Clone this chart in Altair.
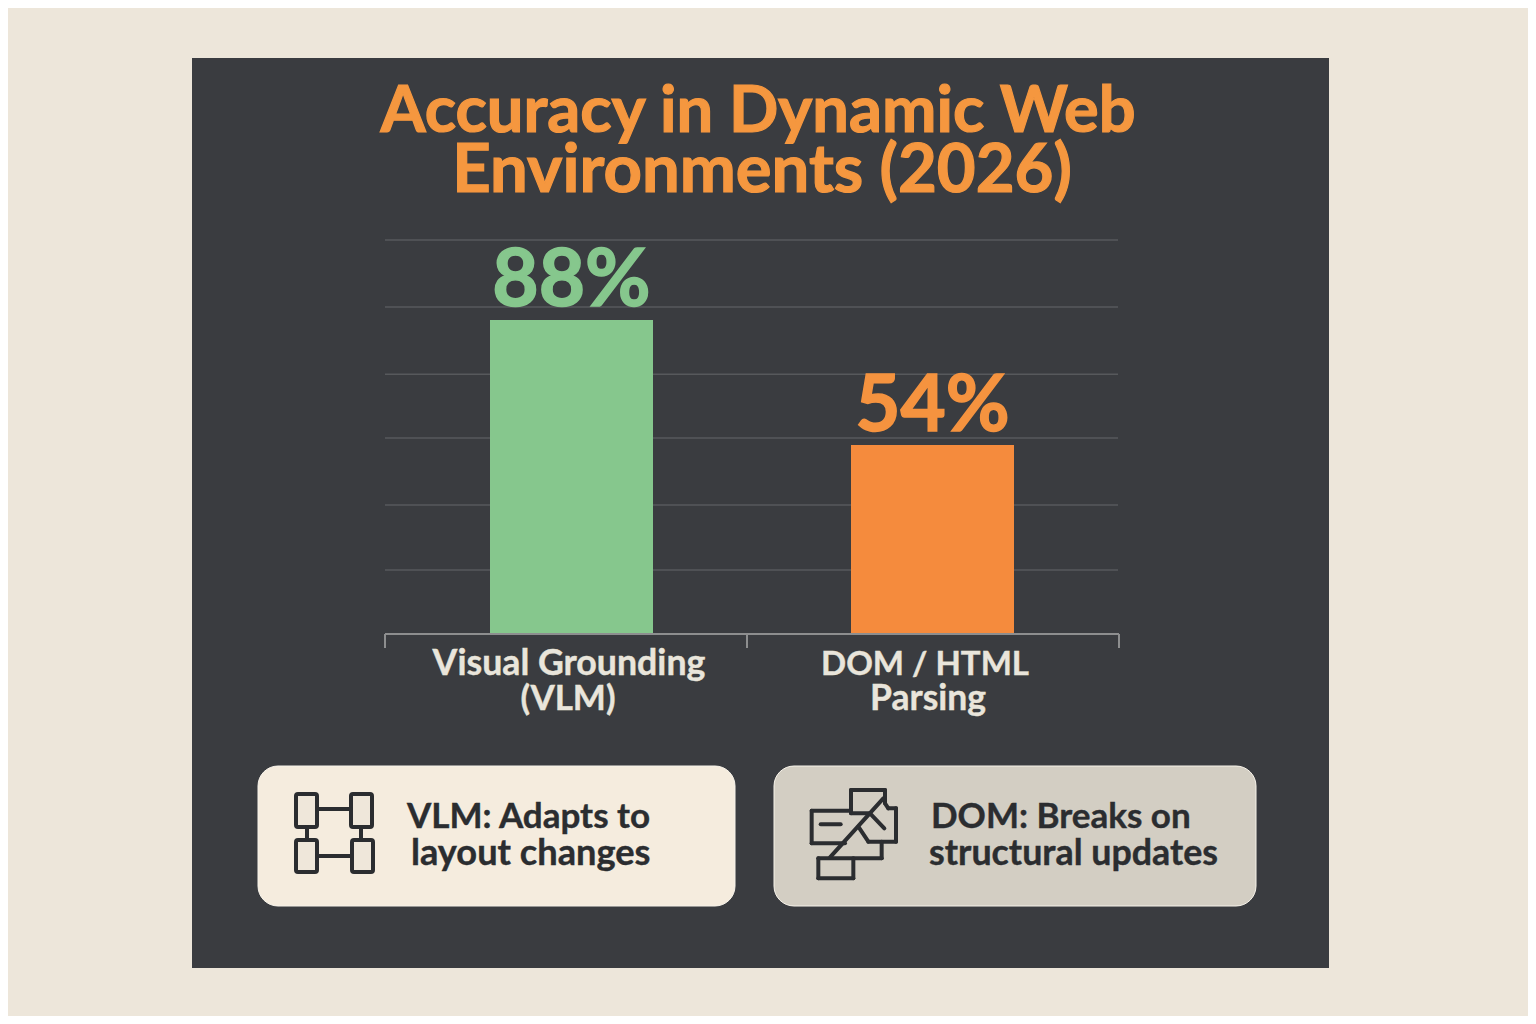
import altair as alt
import pandas as pd

# ---- chart values
categories = ["Visual Grounding (VLM)", "DOM / HTML Parsing"]
accuracy = [88, 54]
bar_colors = ["#86c78d", "#f58b3d"]
value_colors = ["#86c78d", "#f5933f"]
value_labels = ["88%", "54%"]
value_sizes = [80, 78]
grid_values = [20, 37.7, 55.9, 73.3, 91.6, 109.8]
BASE = 2.6
Y_DOMAIN = [BASE, 109.8]

OX, OY = 8, 8   # page margin


def sx(v):
    return v - OX


def sy(v):
    return v - OY


y_scale = alt.Scale(domain=Y_DOMAIN, range=[sy(634), sy(240)], zero=False, nice=False)
x_scale = alt.Scale(type="point", domain=categories, range=[sx(571.5), sx(932.5)], padding=0)

# ---- decoration tables
panels = pd.DataFrame([
    dict(x=sx(192), x2=sx(1329), y=sy(58), y2=sy(968), c="#3a3c40"),
])
cards = pd.DataFrame([
    dict(x=sx(258), x2=sx(735), y=sy(766), y2=sy(906), c="#f5ecde"),
    dict(x=sx(774), x2=sx(1256), y=sy(766), y2=sy(906), c="#d3cec3"),
])
icon_boxes = pd.DataFrame([
    dict(x=sx(a), x2=sx(b), y=sy(c), y2=sy(d))
    for a, b, c, d in [(296, 317, 794, 827), (351, 372, 794, 827),
                       (296, 317, 840, 872), (352, 373, 840, 872)]
])


def zoom_pts(pts):
    return [(790 + a / 3, 770 + b / 3) for a, b in pts]


polylines = [
    # VLM connectors
    [(317, 809), (351, 809)], [(317, 856), (352, 856)],
    [(307, 827), (307, 840)], [(361, 827), (361, 840)],
    # DOM icon
    zoom_pts([(183, 130), (183, 60), (285, 60), (285, 100), (295, 115), (318, 115),
              (318, 215), (235, 215), (205, 170)]),
    zoom_pts([(183, 130), (240, 130), (283, 175)]),
    zoom_pts([(183, 122), (65, 122), (65, 220), (165, 220)]),
    zoom_pts([(275, 215), (275, 265), (85, 265), (85, 325), (190, 325), (190, 265)]),
    zoom_pts([(280, 85), (120, 262)]),
    zoom_pts([(92, 163), (152, 163)]),
]
segments = pd.DataFrame([
    dict(x=sx(p[i][0]), y=sy(p[i][1]), x2=sx(p[i + 1][0]), y2=sy(p[i + 1][1]))
    for p in polylines for i in range(len(p) - 1)
])
axis_segments = pd.DataFrame([
    dict(x=sx(385), x2=sx(1119), y=sy(634), y2=sy(634)),
    dict(x=sx(385), x2=sx(385), y=sy(634), y2=sy(648)),
    dict(x=sx(747), x2=sx(747), y=sy(634), y2=sy(648)),
    dict(x=sx(1119), x2=sx(1119), y=sy(634), y2=sy(648)),
])

TITLE = "#f5973f"
LABEL = "#e9e5db"
INK = "#2b2d30"
title_text = pd.DataFrame([
    dict(x=sx(758), y=sy(132), s=65, c=TITLE, t="Accuracy in Dynamic Web"),
    dict(x=sx(762), y=sy(192), s=67, c=TITLE, t="Environments (2026)"),
])
center_text = pd.DataFrame([
    dict(x=sx(569), y=sy(675), s=35.7, c=LABEL, t="Visual Grounding"),
    dict(x=sx(568), y=sy(710), s=35, c=LABEL, t="(VLM)"),
    dict(x=sx(925), y=sy(675), s=33, c=LABEL, t="DOM / HTML"),
    dict(x=sx(928), y=sy(710), s=35.5, c=LABEL, t="Parsing"),
])
left_text = pd.DataFrame([
    dict(x=sx(407), y=sy(828), s=35, c=INK, t="VLM: Adapts to"),
    dict(x=sx(411), y=sy(865), s=36.2, c=INK, t="layout changes"),
    dict(x=sx(931), y=sy(828), s=35, c=INK, t="DOM: Breaks on"),
    dict(x=sx(929), y=sy(865), s=35.8, c=INK, t="structural updates"),
])

bars = pd.DataFrame(dict(cat=categories, v=accuracy, base=[BASE] * 2, c=bar_colors,
                         vc=value_colors, lab=value_labels, s=value_sizes))
grid = pd.DataFrame(dict(g=grid_values))


def px_x():
    return alt.X("x:Q", scale=None, axis=None)


def px_y():
    return alt.Y("y:Q", scale=None, axis=None)


def rects(df, mark):
    return alt.Chart(df).mark_rect(**mark).encode(
        x=px_x(), x2="x2:Q", y=px_y(), y2="y2:Q",
        color=alt.Color("c:N", scale=None, legend=None))


def rules(df, color, width, cap="round"):
    return alt.Chart(df).mark_rule(color=color, strokeWidth=width, strokeCap=cap).encode(
        x=px_x(), x2="x2:Q", y=px_y(), y2="y2:Q")


def texts(df, align, weight):
    return alt.Chart(df).mark_text(font="Lato", fontWeight="bold", align=align,
                                   baseline="alphabetic", strokeWidth=weight).encode(
        x=px_x(), y=px_y(), text="t:N",
        size=alt.Size("s:Q", scale=None, legend=None),
        color=alt.Color("c:N", scale=None, legend=None),
        stroke=alt.Stroke("c:N", scale=None, legend=None))


grid_layer = alt.Chart(grid).mark_rule(color="#57595c", strokeWidth=1.5).encode(
    y=alt.Y("g:Q", scale=y_scale, axis=None),
    x=alt.value(sx(385)), x2=alt.value(sx(1118)))

bar_layer = alt.Chart(bars).mark_bar(width=163).encode(
    x=alt.X("cat:N", scale=x_scale, axis=None),
    y=alt.Y("v:Q", scale=y_scale, axis=None),
    y2="base:Q",
    color=alt.Color("c:N", scale=None, legend=None))

value_layer = alt.Chart(bars).mark_text(font="Lato", fontWeight="bold", align="center",
                                        baseline="alphabetic", dy=-14, strokeWidth=1.5).encode(
    x=alt.X("cat:N", scale=x_scale, axis=None),
    y=alt.Y("v:Q", scale=y_scale, axis=None),
    text="lab:N",
    size=alt.Size("s:Q", scale=None, legend=None),
    color=alt.Color("vc:N", scale=None, legend=None),
    stroke=alt.Stroke("vc:N", scale=None, legend=None))

chart = alt.layer(
    rects(panels, {}),
    grid_layer,
    bar_layer,
    rules(axis_segments, "#8d8e8f", 2, "butt"),
    value_layer,
    texts(title_text, "center", 1.2),
    texts(center_text, "center", 0.4),
    rects(cards, dict(cornerRadius=20, stroke="#f7f3ea", strokeWidth=1)),
    alt.Chart(icon_boxes).mark_rect(color="#efe7da", stroke=INK, strokeWidth=4, cornerRadius=2).encode(
        x=px_x(), x2="x2:Q", y=px_y(), y2="y2:Q"),
    rules(segments, INK, 4),
    texts(left_text, "left", 0.4),
).resolve_scale(x="independent", y="independent", color="independent", size="independent").properties(
    width=1520, height=1008, padding=0, background="#ede6da",
    autosize=alt.AutoSizeParams(type="none"),
).configure_view(strokeWidth=0)

chart.save("out.html", embed_options={"renderer": "svg", "actions": False})
